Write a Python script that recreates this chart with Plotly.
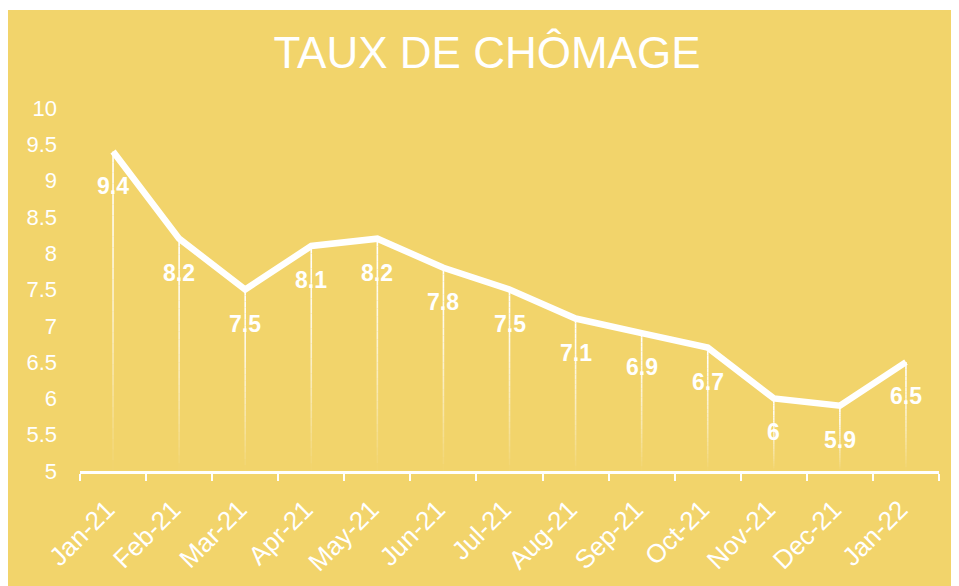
import plotly.graph_objects as go

MONTHS = ["Jan-21", "Feb-21", "Mar-21", "Apr-21", "May-21", "Jun-21",
          "Jul-21", "Aug-21", "Sep-21", "Oct-21", "Nov-21", "Dec-21",
          "Jan-22"]
RATE = [9.4, 8.2, 7.5, 8.1, 8.2, 7.8, 7.5, 7.1, 6.9, 6.7, 6.0, 5.9, 6.5]
Y_TICKS = [5, 5.5, 6, 6.5, 7, 7.5, 8, 8.5, 9, 9.5, 10]

BG = "#F2D46B"
FONT = "Liberation Sans, Arial, sans-serif"
# page has an 8px body margin, so the figure itself is a bit smaller
W, H = 951, 578
L, R, T, B = 72, 20, 100, 115
BASE = 5
STEPS = 30

fig = go.Figure()

# fading drop lines: one trace per opacity step
for k in range(STEPS):
    xs, ys = [], []
    for m, v in zip(MONTHS, RATE):
        top = v - (v - BASE) * k / STEPS
        bot = v - (v - BASE) * (k + 1) / STEPS
        xs += [m, m, None]
        ys += [top, bot, None]
    t = (k + 0.5) / STEPS
    alpha = max(0.0, 1 - t ** 1.5)
    fig.add_trace(go.Scatter(
        x=xs, y=ys, mode="lines",
        line=dict(color=f"rgba(255,255,255,{alpha:.3f})", width=1.6),
        hoverinfo="skip", showlegend=False,
    ))

fig.add_trace(go.Scatter(
    x=MONTHS, y=RATE, mode="lines",
    line=dict(color="white", width=6.5),
    showlegend=False,
))

for m, v in zip(MONTHS, RATE):
    fig.add_annotation(x=m, y=v, text=f"{v:g}", showarrow=False,
                       yshift=-34, font=dict(family=FONT, size=23,
                                             color="white", weight="bold"))

# yellow panel, leaving a thin white strip at the top
ph = H - T - B
pw = W - L - R
fig.add_shape(type="rect", xref="paper", yref="paper", layer="below",
              x0=-(L + 5) / pw, x1=(W + 5 - L) / pw,
              y0=-(B + 5) / ph, y1=(ph + T - 2) / ph,
              fillcolor=BG, line_width=0)

fig.update_layout(
    width=W, height=H,
    margin=dict(l=L, r=R, t=T, b=B, autoexpand=False),
    paper_bgcolor="white",
    plot_bgcolor="rgba(0,0,0,0)",
    title=dict(text="TAUX DE CHÔMAGE", x=479 / W, xanchor="center",
               xref="container", yref="container",
               y=1 - 45 / H, yanchor="middle",
               font=dict(family=FONT, size=44, color="white")),
    xaxis=dict(type="category", categoryarray=MONTHS,
               range=[-0.5, len(MONTHS) - 0.5],
               tickson="boundaries", ticks="outside",
               ticklen=7, tickwidth=2, tickcolor="white",
               showline=True, linecolor="white", linewidth=3,
               showgrid=False, tickangle=-45, ticklabelstandoff=10,
               ticklabelshift=-6,
               tickfont=dict(family=FONT, size=26, color="white")),
    yaxis=dict(range=[5, 10], tickvals=Y_TICKS, showgrid=False,
               zeroline=False, showline=False, ticklabelstandoff=22,
               tickfont=dict(family=FONT, size=22, color="white")),
)

fig.write_html("out.html")
